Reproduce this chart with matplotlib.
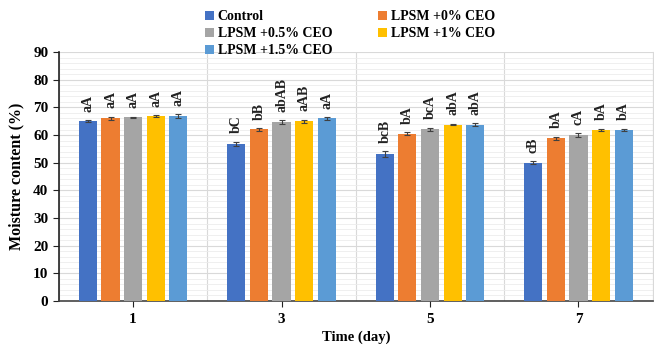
import matplotlib
matplotlib.use("Agg")
import matplotlib.pyplot as plt
import numpy as np
from matplotlib.ticker import MultipleLocator

days = ["1", "3", "5", "7"]
series_names = ["Control", "LPSM +0% CEO", "LPSM +0.5% CEO", "LPSM +1% CEO", "LPSM +1.5% CEO"]
colors = ["#4472C4", "#ED7D31", "#A5A5A5", "#FFC000", "#5B9BD5"]

control = [65.1, 56.9, 53.2, 50.0]
lpsm_0 = [66.0, 62.1, 60.5, 58.8]
lpsm_05 = [66.4, 64.7, 62.1, 60.0]
lpsm_1 = [66.8, 65.0, 63.8, 61.8]
lpsm_15 = [66.9, 66.0, 63.8, 61.8]

control_err = [0.4, 0.7, 1.0, 0.6]
lpsm_0_err = [0.6, 0.5, 0.5, 0.6]
lpsm_05_err = [0.3, 0.7, 0.6, 0.7]
lpsm_1_err = [0.3, 0.6, 0.3, 0.5]
lpsm_15_err = [0.6, 0.4, 0.5, 0.5]

control_lbl = ["aA", "bC", "bcB", "cB"]
lpsm_0_lbl = ["aA", "bB", "bA", "bA"]
lpsm_05_lbl = ["aA", "abAB", "bcA", "cA"]
lpsm_1_lbl = ["aA", "aAB", "abA", "bA"]
lpsm_15_lbl = ["aA", "aA", "abA", "bA"]

values = [control, lpsm_0, lpsm_05, lpsm_1, lpsm_15]
errors = [control_err, lpsm_0_err, lpsm_05_err, lpsm_1_err, lpsm_15_err]
labels = [control_lbl, lpsm_0_lbl, lpsm_05_lbl, lpsm_1_lbl, lpsm_15_lbl]

serif = ["Liberation Serif", "DejaVu Serif"]
plt.rcParams["font.family"] = serif
plt.rcParams["font.weight"] = "bold"

fig = plt.figure(figsize=(6.54, 3.52), dpi=100)
ax = fig.add_axes([0.090, 0.145, 0.908, 0.707])

x = np.arange(len(days))
step = 0.152
width = 0.122
handles = []
for i, (vals, errs, lbls) in enumerate(zip(values, errors, labels)):
    pos = x + (i - 2) * step
    h = ax.bar(pos, vals, width, color=colors[i], label=series_names[i], zorder=3)
    handles.append(h)
    ax.errorbar(pos, vals, yerr=errs, fmt="none", ecolor="#404040",
                elinewidth=0.8, capsize=2.5, capthick=0.8, zorder=4)
    for p, v, e, t in zip(pos, vals, errs, lbls):
        ax.annotate(t, (p, v + e), xytext=(0, 6), textcoords="offset points",
                    rotation=90, ha="center", va="bottom", fontsize=10,
                    fontweight="bold", color="#222222")

ax.set_xlim(-0.5, len(days) - 0.5)
ax.set_ylim(0, 90)
ax.yaxis.set_major_locator(MultipleLocator(10))
ax.yaxis.set_minor_locator(MultipleLocator(2))
ax.set_xticks(x)
ax.set_xticklabels(days)
ax.set_xticks(np.arange(-0.5, len(days), 0.5), minor=True)

ax.grid(True, which="major", axis="y", color="#d9d9d9", linewidth=0.8, zorder=0)
ax.grid(True, which="minor", axis="y", color="#ececec", linewidth=0.6, zorder=0)
ax.grid(True, which="minor", axis="x", color="#d9d9d9", linewidth=0.8, zorder=0)
ax.tick_params(axis="x", which="minor", length=0)
ax.tick_params(axis="y", which="minor", length=0)
ax.tick_params(axis="y", which="major", length=4, color="#222222", labelsize=11)
ax.tick_params(axis="x", which="major", length=4, color="#222222", labelsize=11, pad=5)

for lab in ax.get_xticklabels() + ax.get_yticklabels():
    lab.set_fontweight("bold")

ax.spines["top"].set_visible(False)
ax.spines["right"].set_color("#d9d9d9")
ax.spines["left"].set_color("#222222")
ax.spines["left"].set_linewidth(1.2)
ax.spines["bottom"].set_color("#444444")
ax.spines["bottom"].set_linewidth(1.2)

ax.set_ylabel("Moisture content (%)", fontsize=11.5, fontweight="bold", labelpad=6)
ax.set_xlabel("Time (day)", fontsize=10.5, fontweight="bold", labelpad=3)

# two-column legend filled row by row
order = [0, 2, 4, 1, 3]
fig.legend([handles[k] for k in order], [series_names[k] for k in order],
           loc="upper left", bbox_to_anchor=(0.297, 1.003), ncol=2,
           frameon=False, handlelength=0.6, handleheight=0.6,
           handletextpad=0.3, columnspacing=3.3, labelspacing=0.3,
           borderpad=0.3,
           prop={"family": serif, "weight": "bold", "size": 10})

fig.savefig("out.png", dpi=100)
